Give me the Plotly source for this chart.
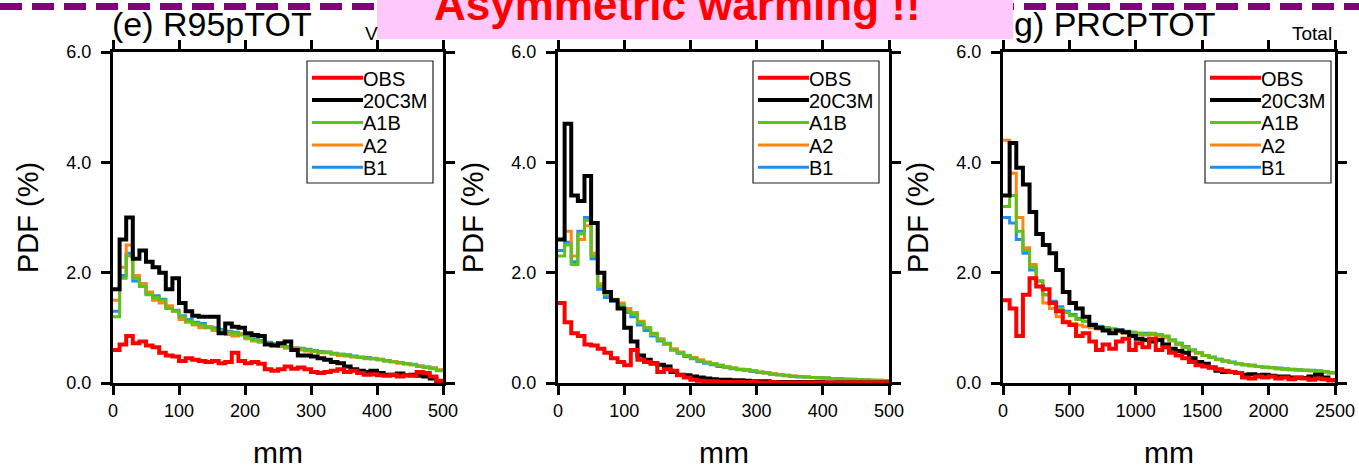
import plotly.graph_objects as go

W, H = 1359, 468
FONT = "Liberation Sans, Arial, Helvetica, sans-serif"

# ---------------- data (PDF %) ----------------
# panel (e) R95pTOT : 10 mm bins, 0-500 mm
BIN_E = 10
E_OBS = [0.6, 0.7, 0.85, 0.72, 0.75, 0.68, 0.65, 0.55, 0.5, 0.48,
         0.4, 0.45, 0.42, 0.4, 0.38, 0.4, 0.36, 0.38, 0.55, 0.4,
         0.36, 0.38, 0.35, 0.25, 0.22, 0.25, 0.3, 0.26, 0.28, 0.25,
         0.2, 0.18, 0.2, 0.22, 0.25, 0.2, 0.22, 0.18, 0.15, 0.16,
         0.14, 0.13, 0.15, 0.12, 0.14, 0.13, 0.2, 0.18, 0.12, 0.04]
E_20C3M = [1.7, 2.6, 3.0, 2.25, 2.4, 2.2, 2.1, 2.0, 1.7, 1.9,
           1.45, 1.3, 1.22, 1.2, 1.2, 1.2, 0.9, 1.08, 1.02, 1.0,
           0.9, 0.87, 0.85, 0.7, 0.68, 0.72, 0.75, 0.6, 0.5, 0.5,
           0.48, 0.45, 0.42, 0.38, 0.36, 0.3, 0.25, 0.22, 0.2, 0.22,
           0.18, 0.15, 0.15, 0.17, 0.14, 0.15, 0.13, 0.12, 0.08, 0.03]
E_A1B = [1.2, 1.9, 2.3, 1.9, 1.75, 1.6, 1.55, 1.5, 1.35, 1.3,
         1.2, 1.12, 1.08, 1.05, 1.0, 0.98, 0.95, 0.92, 0.9, 0.87,
         0.82, 0.78, 0.75, 0.72, 0.7, 0.67, 0.65, 0.63, 0.62, 0.6,
         0.58, 0.56, 0.55, 0.53, 0.52, 0.5, 0.48, 0.46, 0.45, 0.44,
         0.42, 0.4, 0.38, 0.37, 0.35, 0.33, 0.3, 0.28, 0.26, 0.22]
E_A2 = [1.5, 2.1, 2.5, 1.95, 1.8, 1.65, 1.5, 1.45, 1.4, 1.3,
        1.15, 1.1, 1.05, 1.0, 1.02, 0.95, 0.9, 0.88, 0.85, 0.9,
        0.8, 0.76, 0.74, 0.72, 0.68, 0.66, 0.63, 0.64, 0.6, 0.58,
        0.57, 0.55, 0.56, 0.52, 0.5, 0.49, 0.47, 0.46, 0.44, 0.45,
        0.42, 0.4, 0.39, 0.36, 0.35, 0.33, 0.31, 0.29, 0.27, 0.24]
E_B1 = [1.3, 1.95, 2.35, 1.85, 1.8, 1.62, 1.58, 1.52, 1.38, 1.32,
        1.22, 1.15, 1.1, 1.08, 1.02, 1.0, 0.97, 0.94, 0.92, 0.88,
        0.84, 0.8, 0.77, 0.74, 0.71, 0.69, 0.66, 0.64, 0.63, 0.61,
        0.59, 0.57, 0.56, 0.54, 0.52, 0.51, 0.49, 0.47, 0.46, 0.44,
        0.43, 0.41, 0.39, 0.37, 0.35, 0.34, 0.31, 0.29, 0.27, 0.23]

# panel (f) : 10 mm bins, 0-500 mm
BIN_F = 10
F_OBS = [1.45, 1.1, 0.9, 0.85, 0.7, 0.68, 0.62, 0.55, 0.45, 0.38,
         0.32, 0.6, 0.42, 0.38, 0.35, 0.2, 0.25, 0.22, 0.14, 0.1,
         0.06, 0.04, 0.03, 0.03, 0.02, 0.02, 0.02, 0.02, 0.01, 0.02,
         0.01, 0.01, 0.02, 0.01, 0.01, 0.01, 0.01, 0.01, 0.01, 0.01,
         0.01, 0.01, 0.01, 0.01, 0.01, 0.01, 0.01, 0.01, 0.01, 0.01]
F_20C3M = [2.6, 4.7, 3.4, 3.3, 3.75, 2.9, 2.0, 1.65, 1.5, 1.35,
           1.0, 0.75, 0.5, 0.42, 0.36, 0.33, 0.3, 0.2, 0.15, 0.14,
           0.12, 0.1, 0.08, 0.07, 0.06, 0.06, 0.05, 0.05, 0.04, 0.03,
           0.03, 0.03, 0.02, 0.02, 0.02, 0.02, 0.02, 0.02, 0.02, 0.02,
           0.01, 0.01, 0.01, 0.01, 0.01, 0.01, 0.01, 0.01, 0.01, 0.01]
F_A1B = [2.3, 2.5, 2.15, 2.7, 2.95, 2.3, 1.75, 1.6, 1.5, 1.42,
         1.3, 1.25, 1.1, 1.0, 0.9, 0.78, 0.72, 0.6, 0.55, 0.5,
         0.45, 0.4, 0.37, 0.35, 0.32, 0.28, 0.27, 0.25, 0.24, 0.22,
         0.2, 0.19, 0.16, 0.15, 0.14, 0.12, 0.12, 0.11, 0.1, 0.1,
         0.09, 0.08, 0.08, 0.07, 0.07, 0.06, 0.06, 0.05, 0.05, 0.04]
F_A2 = [2.6, 2.75, 2.3, 2.6, 2.85, 2.35, 1.8, 1.65, 1.52, 1.45,
        1.35, 1.28, 1.12, 1.0, 0.88, 0.8, 0.7, 0.62, 0.56, 0.5,
        0.46, 0.42, 0.38, 0.35, 0.32, 0.3, 0.27, 0.25, 0.24, 0.22,
        0.2, 0.18, 0.17, 0.15, 0.14, 0.13, 0.12, 0.11, 0.1, 0.1,
        0.09, 0.08, 0.08, 0.07, 0.07, 0.06, 0.06, 0.05, 0.05, 0.04]
F_B1 = [2.4, 2.55, 2.2, 2.75, 3.0, 2.25, 1.7, 1.55, 1.48, 1.4,
        1.28, 1.2, 1.05, 0.95, 0.85, 0.76, 0.7, 0.6, 0.54, 0.48,
        0.44, 0.39, 0.36, 0.33, 0.3, 0.28, 0.26, 0.24, 0.23, 0.21,
        0.19, 0.18, 0.16, 0.15, 0.13, 0.12, 0.11, 0.11, 0.1, 0.09,
        0.09, 0.08, 0.07, 0.07, 0.06, 0.06, 0.05, 0.05, 0.04, 0.04]

# panel (g) PRCPTOT : 50 mm bins, 0-2500 mm
BIN_G = 50
G_OBS = [1.5, 1.35, 0.85, 1.6, 1.9, 1.75, 1.7, 1.45, 1.3, 1.1,
         1.05, 0.85, 0.9, 0.75, 0.6, 0.7, 0.62, 0.75, 0.8, 0.6,
         0.72, 0.65, 0.8, 0.6, 0.65, 0.55, 0.5, 0.45, 0.38, 0.32,
         0.3, 0.28, 0.25, 0.22, 0.2, 0.18, 0.1, 0.08, 0.12, 0.1,
         0.12, 0.08, 0.1, 0.07, 0.09, 0.08, 0.06, 0.08, 0.07, 0.05]
G_20C3M = [3.4, 4.35, 3.9, 3.6, 3.1, 2.7, 2.5, 2.35, 2.05, 1.65,
           1.45, 1.35, 1.2, 1.05, 1.0, 0.95, 0.9, 0.95, 0.92, 0.85,
           0.8, 0.78, 0.75, 0.78, 0.7, 0.62, 0.58, 0.55, 0.45, 0.38,
           0.35, 0.28, 0.22, 0.2, 0.2, 0.18, 0.15, 0.16, 0.14, 0.15,
           0.13, 0.12, 0.12, 0.1, 0.1, 0.09, 0.12, 0.15, 0.1, 0.05]
G_A1B = [3.2, 3.4, 2.75, 2.4, 2.1, 1.85, 1.6, 1.45, 1.35, 1.28,
         1.22, 1.15, 1.12, 1.05, 1.02, 1.0, 0.98, 0.95, 0.93, 0.92,
         0.9, 0.88, 0.9, 0.88, 0.85, 0.78, 0.72, 0.65, 0.6, 0.55,
         0.5, 0.46, 0.43, 0.4, 0.37, 0.35, 0.33, 0.32, 0.3, 0.28,
         0.28, 0.26, 0.25, 0.24, 0.24, 0.23, 0.22, 0.21, 0.2, 0.18]
G_A2 = [4.4, 3.8, 3.0, 2.45, 2.15, 1.75, 1.45, 1.35, 1.2, 1.12,
        1.08, 1.05, 1.02, 1.0, 0.98, 0.96, 0.95, 0.93, 0.9, 0.9,
        0.88, 0.87, 0.88, 0.85, 0.82, 0.76, 0.7, 0.64, 0.58, 0.54,
        0.5, 0.46, 0.42, 0.4, 0.37, 0.35, 0.33, 0.31, 0.3, 0.28,
        0.27, 0.26, 0.25, 0.24, 0.23, 0.23, 0.22, 0.21, 0.2, 0.18]
G_B1 = [3.0, 2.9, 2.6, 2.35, 2.05, 1.85, 1.6, 1.48, 1.38, 1.3,
        1.24, 1.17, 1.12, 1.07, 1.03, 1.0, 0.98, 0.96, 0.94, 0.92,
        0.9, 0.9, 0.88, 0.87, 0.84, 0.78, 0.72, 0.66, 0.6, 0.55,
        0.5, 0.47, 0.43, 0.4, 0.38, 0.35, 0.33, 0.32, 0.3, 0.29,
        0.28, 0.27, 0.26, 0.25, 0.24, 0.23, 0.23, 0.22, 0.21, 0.19]

SERIES_NAMES = ["OBS", "20C3M", "A1B", "A2", "B1"]
Y_TICKS = [0, 2, 4, 6]
Y_TICKTEXT = ["0.0", "2.0", "4.0", "6.0"]
X_TICKS_EF = [0, 100, 200, 300, 400, 500]
X_TICKS_G = [0, 500, 1000, 1500, 2000, 2500]

COLORS = {"OBS": "#ff0000", "20C3M": "#000000", "A1B": "#5ec21a",
          "A2": "#ff8416", "B1": "#1e8ff5"}
WIDTHS = {"OBS": 4, "20C3M": 4, "A1B": 3, "A2": 3, "B1": 3}
DRAW_ORDER = ["B1", "A2", "A1B", "20C3M", "OBS"]


def fx(p):
    return p / W


def fy(p):
    return 1 - p / H


panels = [
    dict(ax="", bw=BIN_E, xmax=500, xt=X_TICKS_EF,
         data=dict(OBS=E_OBS, **{"20C3M": E_20C3M}, A1B=E_A1B, A2=E_A2, B1=E_B1),
         x0=113, x1=443, lx=307),
    dict(ax="2", bw=BIN_F, xmax=500, xt=X_TICKS_EF,
         data=dict(OBS=F_OBS, **{"20C3M": F_20C3M}, A1B=F_A1B, A2=F_A2, B1=F_B1),
         x0=558, x1=889, lx=753),
    dict(ax="3", bw=BIN_G, xmax=2500, xt=X_TICKS_G,
         data=dict(OBS=G_OBS, **{"20C3M": G_20C3M}, A1B=G_A1B, A2=G_A2, B1=G_B1),
         x0=1003, x1=1335, lx=1205),
]

fig = go.Figure()
PLOT_TOP, PLOT_BOT = 52, 383

axis_common = dict(showline=True, linecolor="black", linewidth=3, mirror="ticks",
                   ticks="outside", ticklen=9, tickwidth=2.5, tickcolor="black",
                   showgrid=False, zeroline=False,
                   tickfont=dict(family=FONT, size=18, color="black"))

layout_axes = {}
shapes = []
annotations = []

# dashed purple separator (drawn first, under the banner)
shapes.append(dict(type="line", xref="paper", yref="paper", x0=0, x1=1,
                   y0=fy(6.5), y1=fy(6.5), layer="above",
                   line=dict(color="#800080", width=7, dash="22px,10px")))

# legend geometry (pixels)
LEG_TOP, LEG_BOT, LEG_W = 61, 183, 126
ROW0, ROW_STEP = 77.7, 22.4

for p in panels:
    for name in DRAW_ORDER:
        vals = p["data"][name]
        xs = [i * p["bw"] for i in range(len(vals))] + [len(vals) * p["bw"]]
        ys = list(vals) + [vals[-1]]
        fig.add_trace(go.Scatter(
            x=xs, y=ys, mode="lines", name=name,
            line=dict(shape="hv", color=COLORS[name], width=WIDTHS[name]),
            xaxis="x" + p["ax"], yaxis="y" + p["ax"],
            showlegend=False, hoverinfo="skip"))
    layout_axes["xaxis" + p["ax"]] = dict(
        axis_common, domain=[fx(p["x0"]), fx(p["x1"])], range=[0, p["xmax"]],
        tickvals=p["xt"], anchor="y" + p["ax"])
    layout_axes["yaxis" + p["ax"]] = dict(
        axis_common, domain=[fy(PLOT_BOT), fy(PLOT_TOP)], range=[0, 6],
        tickvals=Y_TICKS, ticktext=Y_TICKTEXT, anchor="x" + p["ax"],
        ticklabelstandoff=6)

    # legend box drawn with shapes + text annotations
    lx = p["lx"]
    shapes.append(dict(type="rect", xref="paper", yref="paper",
                       x0=fx(lx), x1=fx(lx + LEG_W), y0=fy(LEG_BOT), y1=fy(LEG_TOP),
                       fillcolor="white", line=dict(color="#222222", width=1.2),
                       layer="above"))
    for i, name in enumerate(SERIES_NAMES):
        ry = ROW0 + i * ROW_STEP
        shapes.append(dict(type="line", xref="paper", yref="paper",
                           x0=fx(lx + 5), x1=fx(lx + 56), y0=fy(ry), y1=fy(ry),
                           line=dict(color=COLORS[name], width=WIDTHS[name]),
                           layer="above"))
        annotations.append(dict(text=name, x=fx(lx + 55), y=fy(ry + 1),
                                xref="paper", yref="paper", showarrow=False,
                                xanchor="left", yanchor="middle", borderpad=0,
                                font=dict(family=FONT, size=20, color="black")))

for p in panels:
    cx = (p["x0"] + p["x1"]) / 2
    annotations.append(dict(text="mm", x=fx(cx), y=fy(452), xref="paper", yref="paper",
                            showarrow=False, xanchor="center", yanchor="middle",
                            font=dict(family=FONT, size=30, color="black")))
    annotations.append(dict(text="PDF (%)", x=fx(p["x0"] - 85), y=fy(218),
                            xref="paper", yref="paper", showarrow=False, textangle=-90,
                            xanchor="center", yanchor="middle",
                            font=dict(family=FONT, size=29, color="black")))

# visible panel titles (the middle title is hidden by the banner in the original)
TITLES = [("(e) R95pTOT", 110, "left"), ("g) PRCPTOT", 1012, "left")]
for t, x, anc in TITLES:
    annotations.append(dict(text=t, x=fx(x), y=fy(24), xref="paper", yref="paper",
                            showarrow=False, xanchor=anc, yanchor="middle",
                            font=dict(family=FONT, size=34, color="black")))
SUBTITLES = [("V", 363, "left"), ("Total", 1334, "right")]
for t, x, anc in SUBTITLES:
    annotations.append(dict(text=t, x=fx(x), y=fy(34), xref="paper", yref="paper",
                            showarrow=False, xanchor=anc, yanchor="middle",
                            font=dict(family=FONT, size=19, color="black")))

# pink banner box
shapes.append(dict(type="rect", xref="paper", yref="paper",
                   x0=fx(377), x1=fx(1013), y0=fy(39), y1=1.05,
                   fillcolor="#ffc8fa", line=dict(width=0), layer="above"))
annotations.append(dict(text="<b>Asymmetric warming !!</b>", x=fx(677), y=fy(5),
                        xref="paper", yref="paper", showarrow=False,
                        xanchor="center", yanchor="middle",
                        font=dict(family=FONT, size=44, color="#ff0000")))

fig.update_layout(
    width=W, height=H, margin=dict(l=0, r=0, t=0, b=0, autoexpand=False),
    paper_bgcolor="white", plot_bgcolor="white", showlegend=False,
    font=dict(family=FONT, color="black"),
    annotations=annotations, shapes=shapes, **layout_axes)

fig.write_html("out.html", config={"displayModeBar": False},
               post_script="document.body.style.margin='0px';"
                           "document.body.style.overflow='hidden';")
